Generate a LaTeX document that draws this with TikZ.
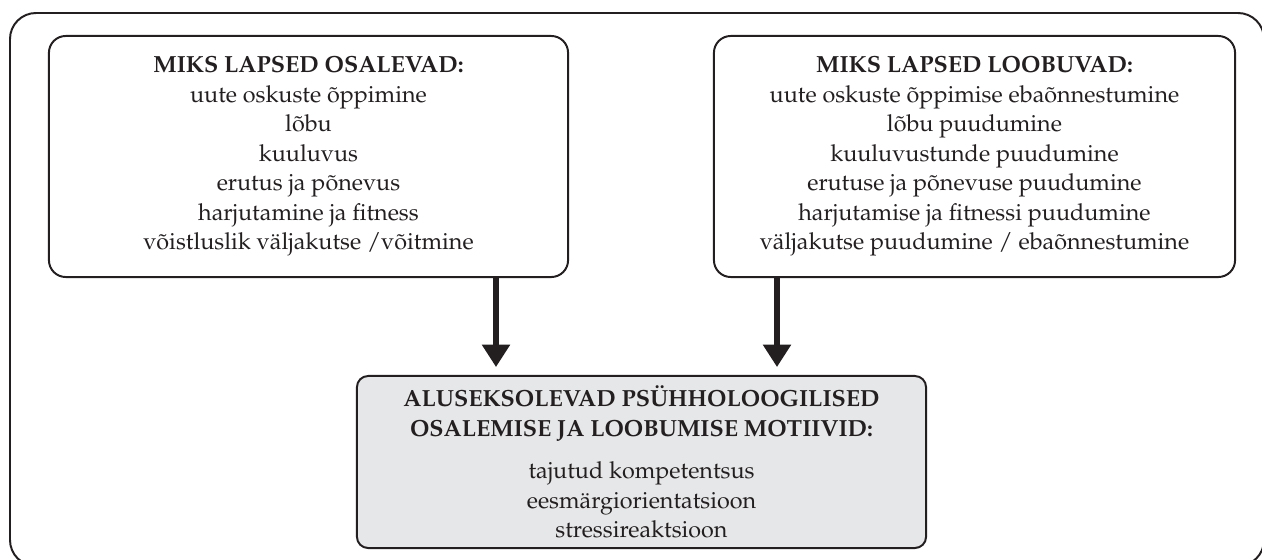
\documentclass[tikz,border=0pt]{standalone}
\usepackage[T1]{fontenc}
\usepackage{mathpazo}
\usepackage{tikz}
\usetikzlibrary{arrows.meta}
\definecolor{ink}{RGB}{35,31,32}
\definecolor{boxgray}{RGB}{230,231,232}
\tikzset{
	box/.style={draw=ink, line width=1.4pt, rounded corners=0.42cm, align=center, text=ink, inner sep=0pt, font=\fontsize{16.6}{21}\selectfont},
	down/.style={draw=ink, line width=3.6pt, -{Triangle[width=0.68cm, length=0.56cm]}, shorten >=0.2cm}
}
\begin{document}
\begin{tikzpicture}[x=0.025cm, y=-0.025cm]
		%%%%% START %%%%%
		\clip (0,0) rectangle (1262,559);
		\draw[ink, line width=1.4pt, rounded corners=0.65cm] (10,13) rectangle (1264,566);
		
		\node[box, minimum width=12.975cm, minimum height=6.025cm] (osalevad) at (308.5,156.5)
			{\textbf{MIKS LAPSED OSALEVAD:}\\ uute oskuste õppimine\\ lõbu\\ kuuluvus\\ erutus ja põnevus\\ harjutamine ja fitness\\ võistluslik väljakutse /võitmine};
		\node[box, minimum width=13.025cm, minimum height=6.025cm] (loobuvad) at (974.5,156.5)
			{\textbf{MIKS LAPSED LOOBUVAD:}\\ uute oskuste õppimise ebaõnnestumine\\ lõbu puudumine\\ kuuluvustunde puudumine\\ erutuse ja põnevuse puudumine\\ harjutamise ja fitnessi puudumine\\ väljakutse puudumine / ebaõnnestumine};
		
		\node[box, fill=boxgray, rounded corners=0.28cm, minimum width=14.225cm, minimum height=4.3cm] (motiivid) at (641.5,462)
			{\textbf{ALUSEKSOLEVAD PSÜHHOLOOGILISED}\\ \textbf{OSALEMISE JA LOOBUMISE MOTIIVID:}\\[9pt] tajutud kompetentsus\\ eesmärgiorientatsioon\\ stressireaktsioon};
		
		\coordinate (lx) at (496,0);
		\coordinate (rx) at (777,0);
		\draw[down] (osalevad.south -| lx) -- (motiivid.north -| lx);
		\draw[down] (loobuvad.south -| rx) -- (motiivid.north -| rx);
		%%%%% END %%%%%
\end{tikzpicture}
\end{document}
